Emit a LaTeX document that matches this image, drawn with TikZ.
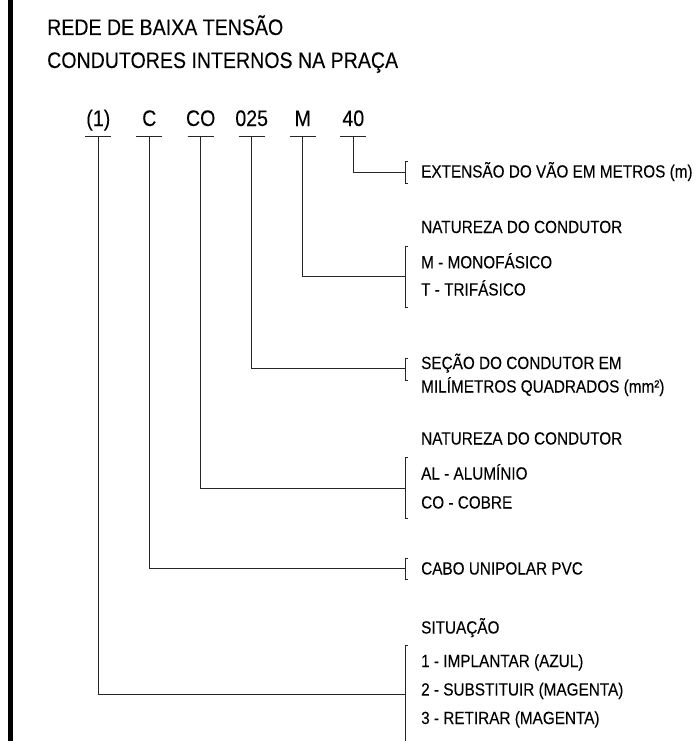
\documentclass[tikz,border=0pt]{standalone}
\usepackage{fontspec}
\setmainfont{Liberation Sans}[FakeStretch=0.87,FakeBold=0.1]
\begin{document}
\begin{tikzpicture}[x=1pt,y=-1pt,
  title/.style={anchor=base west, inner sep=0pt, text=black, font=\fontsize{22.5}{26}\selectfont},
  code/.style={anchor=base, inner sep=0pt, text=black, font=\fontsize{22.5}{26}\selectfont},
  lbl/.style={anchor=base west, inner sep=0pt, text=black, font=\fontsize{17.6}{20}\selectfont},
  ln/.style={line width=0.8pt, draw=black!85},
  brk/.style={line width=0.8pt, draw=black!85}]
\useasboundingbox (0,0) rectangle (698,741);
\fill[black] (7.5,0) rectangle (13.3,741);

% titles
\node[title] (t1) at (47,35) {REDE DE BAIXA TENSÃO};
\node[title] (t2) at (47,68) {CONDUTORES INTERNOS NA PRAÇA};

% codes
\node[code] (c1) at (98.3,126) {(1)};
\node[code] (c2) at (149.3,126) {C};
\node[code] (c3) at (200.7,126) {CO};
\node[code] (c4) at (251.7,126) {025};
\node[code] (c5) at (302.7,126) {M};
\node[code] (c6) at (353.3,126) {40};

% tick coordinates
\foreach \n/\x in {1/98.3,2/149.3,3/200.7,4/251.7,5/302.7,6/353.3}{
  \coordinate (k\n) at (\x,136);
  \draw[ln] (\x-13,136) -- (\x+13,136);
}

% bracket junctions
\coordinate (j6) at (405,172);
\coordinate (j5) at (405,276);
\coordinate (j4) at (405,368.5);
\coordinate (j3) at (405,488);
\coordinate (j2) at (405,568);
\coordinate (j1) at (405,694);

% connectors
\draw[ln] (k6) |- (j6);
\draw[ln] (k5) |- (j5);
\draw[ln] (k4) |- (j4);
\draw[ln] (k3) |- (j3);
\draw[ln] (k2) |- (j2);
\draw[ln] (k1) |- (j1);

% brackets
\draw[brk] (408,161) -- (405,161) -- (405,183) -- (408,183);
\draw[brk] (408,246) -- (405,246) -- (405,307.5) -- (408,307.5);
\draw[brk] (408,358) -- (405,358) -- (405,380) -- (408,380);
\draw[brk] (408,457) -- (405,457) -- (405,518.5) -- (408,518.5);
\draw[brk] (408,558) -- (405,558) -- (405,579) -- (408,579);
\draw[brk] (408,645) -- (405,645) -- (405,741);

% labels
\node[lbl] (l6) at (421,177.5) {EXTENSÃO DO VÃO EM METROS (m)};
\node[lbl] (l5a) at (421,233) {NATUREZA DO CONDUTOR};
\node[lbl] (l5b) at (421,268.3) {M - MONOFÁSICO};
\node[lbl] (l5c) at (421,295.5) {T - TRIFÁSICO};
\node[lbl] (l4a) at (421,369) {SEÇÃO DO CONDUTOR EM};
\node[lbl] (l4b) at (421,392.5) {MILÍMETROS QUADRADOS (mm²)};
\node[lbl] (l3a) at (421,444.5) {NATUREZA DO CONDUTOR};
\node[lbl] (l3b) at (421,479.5) {AL - ALUMÍNIO};
\node[lbl] (l3c) at (421,508.5) {CO - COBRE};
\node[lbl] (l2) at (421,574.5) {CABO UNIPOLAR PVC};
\node[lbl] (l1a) at (421,633.5) {SITUAÇÃO};
\node[lbl] (l1b) at (421,667) {1 - IMPLANTAR (AZUL)};
\node[lbl] (l1c) at (421,695.5) {2 - SUBSTITUIR (MAGENTA)};
\node[lbl] (l1d) at (421,724) {3 - RETIRAR (MAGENTA)};
\end{tikzpicture}
\end{document}
